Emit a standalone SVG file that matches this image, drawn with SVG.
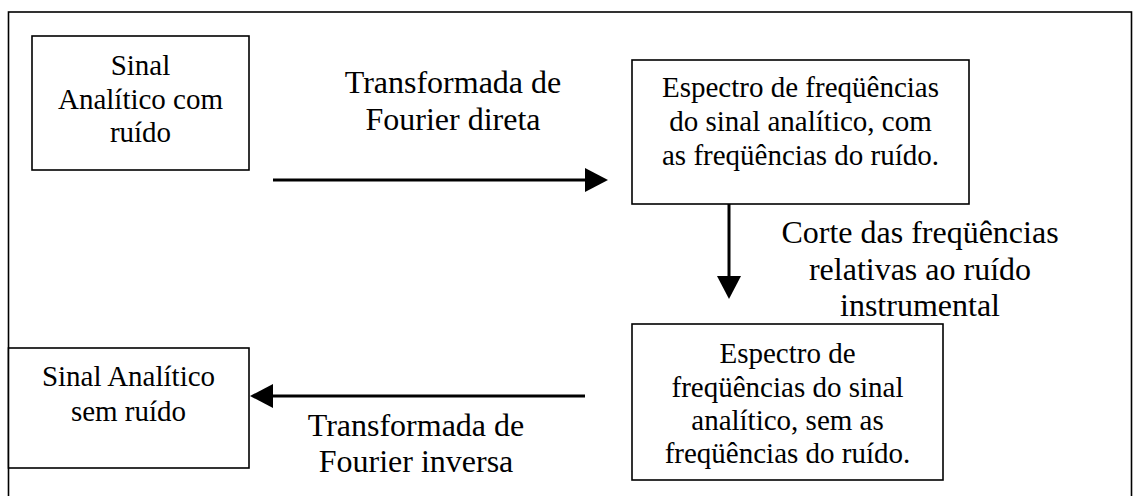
<svg xmlns="http://www.w3.org/2000/svg" width="1133" height="496" viewBox="0 0 1133 496">
<style>
.box{fill:#fff;stroke:#000;stroke-width:1.6}
.t{font-family:"Liberation Serif","Times New Roman",serif;font-size:29px;fill:#000;text-anchor:middle}
.l{font-family:"Liberation Serif","Times New Roman",serif;font-size:32px;fill:#000;text-anchor:middle}
.c{stroke:#000;stroke-width:3;fill:none}
.h{fill:#000;stroke:none}
</style>
<rect width="1133" height="496" fill="#fff"/>
<rect x="8.5" y="12" width="1123" height="492" fill="none" stroke="#000" stroke-width="1.6"/>
<g id="n1">
<rect class="box" x="32" y="36" width="217" height="134"/>
<text class="t" x="140.5" y="75">Sinal</text>
<text class="t" x="140.5" y="108.5">Analítico com</text>
<text class="t" x="140.5" y="142">ruído</text>
</g>
<g id="n2">
<rect class="box" x="632" y="60" width="337" height="144"/>
<text class="t" x="800.5" y="97">Espectro de freqüências</text>
<text class="t" x="800.5" y="131">do sinal analítico, com</text>
<text class="t" x="800.5" y="165">as freqüências do ruído.</text>
</g>
<g id="n3">
<rect class="box" x="632" y="324" width="311" height="156"/>
<text class="t" x="787.5" y="363">Espectro de</text>
<text class="t" x="787.5" y="397">freqüências do sinal</text>
<text class="t" x="787.5" y="430">analítico, sem as</text>
<text class="t" x="787.5" y="463">freqüências do ruído.</text>
</g>
<g id="n4">
<rect class="box" x="8.5" y="348" width="240.5" height="120"/>
<text class="t" x="128.5" y="386">Sinal Analítico</text>
<text class="t" x="128.5" y="421">sem ruído</text>
</g>
<g id="connectors">
<line class="c" x1="273" y1="180" x2="586" y2="180"/>
<polygon class="h" points="608,180 585,168 585,192"/>
<line class="c" x1="729" y1="204" x2="729" y2="277"/>
<polygon class="h" points="729,299 717,276 741,276"/>
<line class="c" x1="585" y1="396" x2="272" y2="396"/>
<polygon class="h" points="250,396 273,384 273,408"/>
</g>
<g id="labels">
<text class="l" x="453" y="93">Transformada de</text>
<text class="l" x="453" y="130">Fourier direta</text>
<text class="l" x="920" y="243">Corte das freqüências</text>
<text class="l" x="920" y="280">relativas ao ruído</text>
<text class="l" x="920" y="316">instrumental</text>
<text class="l" x="416" y="436">Transformada de</text>
<text class="l" x="416" y="472">Fourier inversa</text>
</g>
</svg>
